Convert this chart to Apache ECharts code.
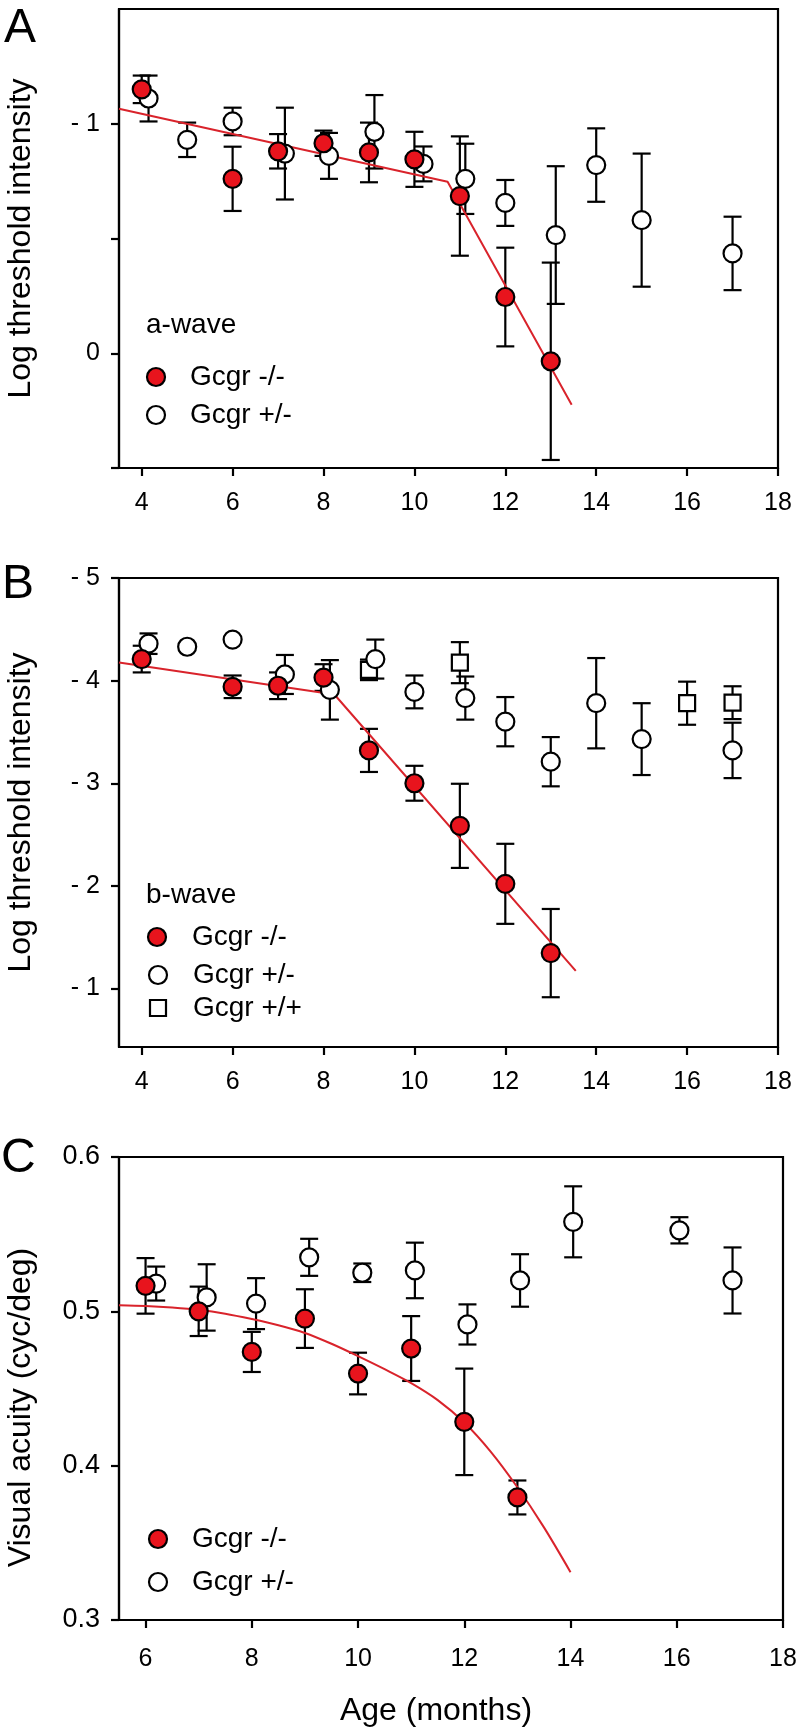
<!DOCTYPE html>
<html><head><meta charset="utf-8">
<script src="https://cdn.jsdelivr.net/npm/echarts@6/dist/echarts.min.js"></script>
<style>html,body{margin:0;padding:0;background:#fff}#c{width:799px;height:1730px}</style>
</head><body><div id="c"></div>
<script>
// ---------- Panel A (a-wave) ----------
const aKoX   = [4, 6, 7, 8, 9, 10, 11, 12, 13];
const aKoY   = [-1.15, -0.76, -0.88, -0.915, -0.875, -0.845, -0.685, -0.245, 0.035];
const aKoErr = [0.06, 0.14, 0.075, 0.055, 0.13, 0.12, 0.26, 0.215, 0.43];
const aHetX   = [4.15, 5, 6, 7.15, 8.12, 9.12, 10.2, 11.12, 12, 13.11, 14, 15, 17];
const aHetY   = [-1.11, -0.93, -1.01, -0.87, -0.86, -0.965, -0.825, -0.76, -0.655, -0.515, -0.82, -0.58, -0.435];
const aHetErr = [0.1, 0.075, 0.06, 0.2, 0.1, 0.16, 0.076, 0.153, 0.1, 0.3, 0.16, 0.29, 0.16];
const aFitX = [3.5, 10.73, 13.46];
const aFitY = [-1.065, -0.747, 0.224];

// ---------- Panel B (b-wave) ----------
const bKoX   = [4, 6, 7, 8, 9, 10, 11, 12, 13];
const bKoY   = [-4.21, -3.94, -3.95, -4.03, -3.32, -3.0, -2.585, -2.02, -1.345];
const bKoErr = [0.13, 0.11, 0.13, 0.13, 0.21, 0.17, 0.41, 0.39, 0.43];
const bHetX   = [4.15, 5, 6, 7.15, 8.14, 9.14, 10, 11.12, 12, 13, 14, 15, 17];
const bHetY   = [-4.36, -4.33, -4.40, -4.06, -3.91, -4.21, -3.89, -3.83, -3.60, -3.21, -3.78, -3.43, -3.32];
const bHetErr = [0.1, 0, 0, 0.19, 0.29, 0.19, 0.16, 0.21, 0.24, 0.24, 0.44, 0.35, 0.27];
const bWtX   = [9, 11, 16, 17];
const bWtY   = [-4.105, -4.175, -3.78, -3.785];
const bWtErr = [0.1, 0.2, 0.21, 0.16];
const bFitX = [3.5, 8.24, 13.55];
const bFitY = [-4.177, -3.865, -1.172];

// ---------- Panel C (visual acuity) ----------
const cKoX   = [6, 7, 8, 9, 10, 11, 12, 13];
const cKoY   = [0.5165, 0.500, 0.4737, 0.4953, 0.4597, 0.4759, 0.4284, 0.3794];
const cKoErr = [0.018, 0.016, 0.013, 0.019, 0.0135, 0.021, 0.0345, 0.011];
const cHetX   = [6.2, 7.15, 8.08, 9.08, 10.08, 11.07, 12.06, 13.05, 14.05, 16.05, 17.05];
const cHetY   = [0.518, 0.509, 0.505, 0.535, 0.525, 0.5265, 0.4915, 0.520, 0.558, 0.5525, 0.520];
const cHetErr = [0.011, 0.0215, 0.0165, 0.012, 0.006, 0.018, 0.013, 0.017, 0.023, 0.0085, 0.0214];
const cFitX = [5.5, 6, 6.5, 7, 7.5, 8, 8.5, 9, 9.5, 10, 10.5, 11, 11.5, 12, 12.5, 13, 13.5, 14];
const cFitY = [0.504, 0.5035, 0.5025, 0.501, 0.4985, 0.495, 0.491, 0.486, 0.479, 0.471, 0.4625, 0.4535, 0.4425, 0.428, 0.409, 0.386, 0.36, 0.331];

// ---------- tick values / labels ----------
const xTicksAB = [4, 6, 8, 10, 12, 14, 16, 18];
const xTicksC  = [6, 8, 10, 12, 14, 16, 18];
const yTicksA = [-1, -0.5, 0, 0.5];
const yLabelsA = [-1, 0];
const yTicksB = [-5, -4, -3, -2, -1];
const yTicksC = [0.3, 0.4, 0.5, 0.6];

const FONT = 'Liberation Sans, Arial, Helvetica, sans-serif';
const RED = '#e8141d';
const LINE_RED = '#d9232b';
const LW = 2.2;

const zip = (xs, ys, es) => xs.map((x, i) => es ? [x, ys[i], es[i]] : [x, ys[i]]);

function errSeries(g, xs, ys, es) {
  return {
    type: 'custom', xAxisIndex: g, yAxisIndex: g, z: 1, silent: true,
    encode: { x: 0, y: 1 },
    data: zip(xs, ys, es),
    renderItem: function (params, api) {
      const x = api.value(0), y = api.value(1), e = api.value(2);
      if (!e) return null;
      const p1 = api.coord([x, y - e]), p2 = api.coord([x, y + e]);
      const hw = 9, st = { stroke: '#000', lineWidth: LW };
      return { type: 'group', children: [
        { type: 'line', shape: { x1: p1[0], y1: p1[1], x2: p2[0], y2: p2[1] }, style: st },
        { type: 'line', shape: { x1: p1[0] - hw, y1: p1[1], x2: p1[0] + hw, y2: p1[1] }, style: st },
        { type: 'line', shape: { x1: p2[0] - hw, y1: p2[1], x2: p2[0] + hw, y2: p2[1] }, style: st }
      ]};
    }
  };
}
function pts(g, name, xs, ys, fill, symbol, size) {
  return {
    type: 'scatter', name: name, xAxisIndex: g, yAxisIndex: g, z: 4,
    symbol: symbol || 'circle', symbolSize: size || 18,
    itemStyle: { color: fill, borderColor: '#000', borderWidth: LW, opacity: 1 },
    emphasis: { disabled: true },
    data: zip(xs, ys)
  };
}
function fit(g, xs, ys, smooth) {
  return {
    type: 'line', xAxisIndex: g, yAxisIndex: g, z: 3, showSymbol: false, silent: true,
    smooth: smooth ? 0.3 : false,
    lineStyle: { color: LINE_RED, width: 2 },
    data: zip(xs, ys)
  };
}
function xAx(g, min, ticks, margin, name) {
  const o = {
    type: 'value', gridIndex: g, min: min, max: 18,
    splitLine: { show: false },
    axisLine: { show: true, onZero: false, lineStyle: { color: '#000', width: LW } },
    axisTick: { show: true, inside: false, length: 8, lineStyle: { color: '#000', width: LW }, customValues: ticks },
    axisLabel: { customValues: ticks, margin: margin, fontSize: 25, color: '#000', fontFamily: FONT }
  };
  if (name) {
    o.name = name; o.nameLocation = 'middle'; o.nameGap = 75;
    o.nameTextStyle = { fontSize: 32, color: '#000', fontFamily: FONT, padding: [0, 30, 0, 0] };
  }
  return o;
}
function yAx(g, opts) {
  return Object.assign({
    type: 'value', gridIndex: g,
    splitLine: { show: false },
    axisLine: { show: true, onZero: false, lineStyle: { color: '#000', width: LW } },
    axisTick: { show: true, inside: false, length: 8, lineStyle: { color: '#000', width: LW }, customValues: opts.ticks },
    axisLabel: { customValues: opts.labels, margin: 19, fontSize: opts.fs || 25, color: '#000', fontFamily: FONT, formatter: opts.fmt },
    nameLocation: 'middle', nameGap: 82,
    nameTextStyle: { fontSize: 32, color: '#000', fontFamily: FONT, padding: opts.namePad || 0 }
  }, opts.extra);
}
const negFmt = v => (v === 0 ? '0' : '- ' + Math.abs(v));

function legendGroup(items) {
  const els = [];
  items.forEach(it => {
    if (it.kind === 'title') {
      els.push({ type: 'text', x: it.x, y: it.y, style: { text: it.text, fill: '#000', font: '28px ' + FONT, verticalAlign: 'middle', align: 'left' } });
    } else {
      if (it.kind === 'rect') {
        els.push({ type: 'rect', shape: { x: it.cx - 8, y: it.cy - 8, width: 16, height: 16 }, style: { fill: '#fff', stroke: '#000', lineWidth: LW } });
      } else {
        els.push({ type: 'circle', shape: { cx: it.cx, cy: it.cy, r: 9 }, style: { fill: it.fill, stroke: '#000', lineWidth: LW } });
      }
      els.push({ type: 'text', x: it.tx, y: it.cy, style: { text: it.text, fill: '#000', font: '28px ' + FONT, verticalAlign: 'middle', align: 'left' } });
    }
  });
  return els;
}

const graphics = [].concat(
  [
    { type: 'text', x: 4, y: 29, style: { text: 'A', fill: '#000', font: '48px ' + FONT, verticalAlign: 'middle' } },
    { type: 'text', x: 2, y: 585, style: { text: 'B', fill: '#000', font: '48px ' + FONT, verticalAlign: 'middle' } },
    { type: 'text', x: 1, y: 1159, style: { text: 'C', fill: '#000', font: '48px ' + FONT, verticalAlign: 'middle' } }
  ],
  legendGroup([
    { kind: 'title', text: 'a-wave', x: 146, y: 325 },
    { kind: 'circle', fill: RED, cx: 156, cy: 377, tx: 190, text: 'Gcgr -/-' },
    { kind: 'circle', fill: '#fff', cx: 156, cy: 415, tx: 190, text: 'Gcgr +/-' },
    { kind: 'title', text: 'b-wave', x: 146, y: 895 },
    { kind: 'circle', fill: RED, cx: 157, cy: 937, tx: 192, text: 'Gcgr -/-' },
    { kind: 'circle', fill: '#fff', cx: 158, cy: 975, tx: 193, text: 'Gcgr +/-' },
    { kind: 'rect', cx: 158, cy: 1008, tx: 193, text: 'Gcgr +/+' },
    { kind: 'circle', fill: RED, cx: 158, cy: 1539, tx: 192, text: 'Gcgr -/-' },
    { kind: 'circle', fill: '#fff', cx: 158, cy: 1582, tx: 192, text: 'Gcgr +/-' }
  ])
);

const chart = echarts.init(document.getElementById('c'), null, { renderer: 'canvas' });
chart.setOption({
  animation: false,
  backgroundColor: '#fff',
  textStyle: { fontFamily: FONT },
  grid: [
    { left: 119, top: 9, width: 659, height: 459, show: true, borderColor: '#000', borderWidth: LW, backgroundColor: 'transparent', outerBoundsMode: 'none' },
    { left: 119, top: 578, width: 659, height: 469, show: true, borderColor: '#000', borderWidth: LW, backgroundColor: 'transparent', outerBoundsMode: 'none' },
    { left: 119, top: 1157, width: 664, height: 463, show: true, borderColor: '#000', borderWidth: LW, backgroundColor: 'transparent', outerBoundsMode: 'none' }
  ],
  xAxis: [
    xAx(0, 3.5, xTicksAB, 23),
    xAx(1, 3.5, xTicksAB, 23),
    xAx(2, 5.5, xTicksC, 27, 'Age (months)')
  ],
  yAxis: [
    yAx(0, { ticks: yTicksA, labels: yLabelsA, fmt: negFmt, extra: { inverse: true, min: -1.5, max: 0.5, name: 'Log threshold intensity' } }),
    yAx(1, { ticks: yTicksB, labels: yTicksB, fmt: negFmt, extra: { inverse: true, min: -5, max: -0.43, name: 'Log threshold intensity' } }),
    yAx(2, { ticks: yTicksC, labels: yTicksC, fs: 27, namePad: [0, 38, 0, 0], fmt: v => v.toFixed(1), extra: { min: 0.3, max: 0.6, name: 'Visual acuity (cyc/deg)' } })
  ],
  graphic: graphics,
  series: [
    errSeries(0, aHetX, aHetY, aHetErr),
    errSeries(0, aKoX, aKoY, aKoErr),
    fit(0, aFitX, aFitY, false),
    pts(0, 'Gcgr +/-', aHetX, aHetY, '#fff'),
    pts(0, 'Gcgr -/-', aKoX, aKoY, RED),

    errSeries(1, bHetX, bHetY, bHetErr),
    errSeries(1, bWtX, bWtY, bWtErr),
    errSeries(1, bKoX, bKoY, bKoErr),
    fit(1, bFitX, bFitY, false),
    pts(1, 'Gcgr +/+', bWtX, bWtY, '#fff', 'rect', 16),
    pts(1, 'Gcgr +/-', bHetX, bHetY, '#fff'),
    pts(1, 'Gcgr -/-', bKoX, bKoY, RED),

    errSeries(2, cHetX, cHetY, cHetErr),
    errSeries(2, cKoX, cKoY, cKoErr),
    fit(2, cFitX, cFitY, true),
    pts(2, 'Gcgr +/-', cHetX, cHetY, '#fff'),
    pts(2, 'Gcgr -/-', cKoX, cKoY, RED)
  ]
});
</script>
</body></html>
